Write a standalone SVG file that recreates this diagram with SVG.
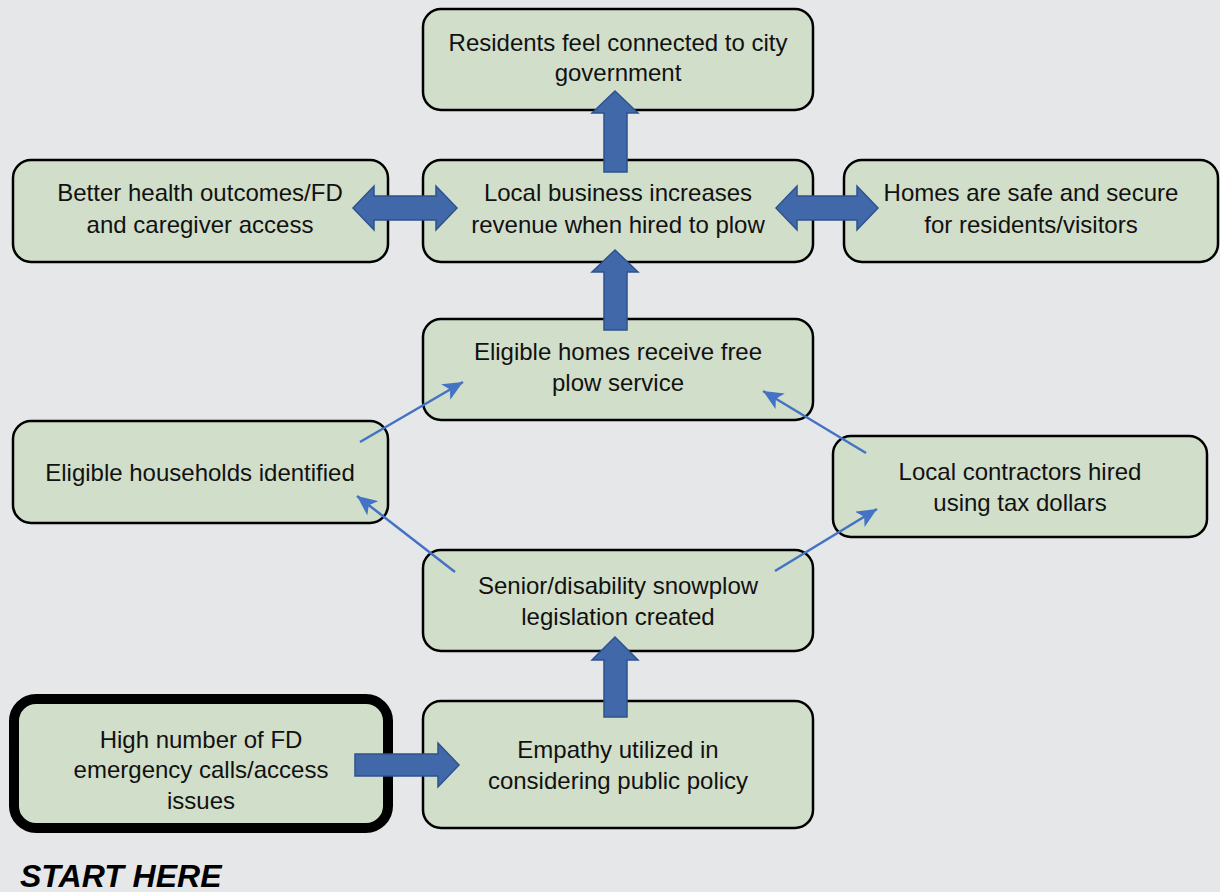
<svg xmlns="http://www.w3.org/2000/svg" width="1220" height="892" viewBox="0 0 1220 892">
<style>
.box{fill:#d1dec9;stroke:#000;stroke-width:2.5}
.thick{fill:#d1dec9;stroke:#000;stroke-width:10}
.t{font-family:"Liberation Sans",Arial,sans-serif;font-size:24px;fill:#111;text-anchor:middle}
.ba{fill:#4169aa;stroke:#2f528f;stroke-width:1.5}
.ln{stroke:#4472c4;stroke-width:2.5;fill:none;marker-end:url(#ah)}
</style>
<defs>
<marker id="ah" markerUnits="userSpaceOnUse" markerWidth="22" markerHeight="18" refX="20" refY="9" orient="auto">
<path d="M0,0 L20,9 L0,18 L5,9 Z" fill="#4472c4"/>
</marker>
</defs>
<rect width="1220" height="892" fill="#e6e7e9"/>
<g id="n1"><rect class="box" x="423" y="9" width="390" height="101" rx="18"/>
<text class="t" x="618" y="51">Residents feel connected to city</text><text class="t" x="618" y="81">government</text></g>
<g id="n2"><rect class="box" x="13" y="160" width="375" height="102" rx="18"/>
<text class="t" x="200" y="201">Better health outcomes/FD</text><text class="t" x="200" y="233">and caregiver access</text></g>
<g id="n3"><rect class="box" x="423" y="160" width="390" height="102" rx="18"/>
<text class="t" x="618" y="201">Local business increases</text><text class="t" x="618" y="233">revenue when hired to plow</text></g>
<g id="n4"><rect class="box" x="844" y="160" width="374" height="102" rx="18"/>
<text class="t" x="1031" y="201">Homes are safe and secure</text><text class="t" x="1031" y="233">for residents/visitors</text></g>
<g id="n5"><rect class="box" x="423" y="319" width="390" height="101" rx="18"/>
<text class="t" x="618" y="360">Eligible homes receive free</text><text class="t" x="618" y="391">plow service</text></g>
<g id="n6"><rect class="box" x="13" y="421" width="375" height="102" rx="18"/>
<text class="t" x="200" y="481">Eligible households identified</text></g>
<g id="n7"><rect class="box" x="833" y="436" width="374" height="101" rx="18"/>
<text class="t" x="1020" y="480">Local contractors hired</text><text class="t" x="1020" y="511">using tax dollars</text></g>
<g id="n8"><rect class="box" x="423" y="550" width="390" height="101" rx="18"/>
<text class="t" x="618" y="594">Senior/disability snowplow</text><text class="t" x="618" y="625">legislation created</text></g>
<g id="n9"><rect class="box" x="423" y="701" width="390" height="127" rx="18"/>
<text class="t" x="618" y="758">Empathy utilized in</text><text class="t" x="618" y="789">considering public policy</text></g>
<g id="n10"><rect class="thick" x="14" y="699" width="374" height="129" rx="22"/>
<text class="t" x="201" y="748">High number of FD</text><text class="t" x="201" y="778">emergency calls/access</text><text class="t" x="201" y="809">issues</text></g>
<text x="20" y="887" font-family="'Liberation Sans',Arial,sans-serif" font-size="32" font-weight="bold" font-style="italic" fill="#000">START HERE</text>
<g id="connectors">
<polygon class="ba" points="604,172 604,113 592,113 615,91 638,113 627,113 627,172"/>
<polygon class="ba" points="604,330 604,272 592,272 615,250 638,272 627,272 627,330"/>
<polygon class="ba" points="604,717 604,660 592,660 615,637 638,660 627,660 627,717"/>
<polygon class="ba" points="353,208 374,186 374,196 436,196 436,186 457,208 436,230 436,220 374,220 374,230"/>
<polygon class="ba" points="776,208 797,186 797,196 857,196 857,186 878,208 857,230 857,220 797,220 797,230"/>
<polygon class="ba" points="355,754 438,754 438,743 459,765 438,787 438,776 355,776"/>
<line class="ln" x1="360" y1="442" x2="463" y2="382"/>
<line class="ln" x1="455" y1="572" x2="357" y2="496"/>
<line class="ln" x1="866" y1="453" x2="763" y2="391"/>
<line class="ln" x1="775" y1="571" x2="877" y2="509"/>
</g>
</svg>
